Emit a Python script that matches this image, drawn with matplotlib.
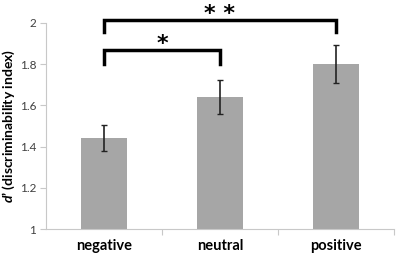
import matplotlib
matplotlib.use("Agg")
import matplotlib.pyplot as plt

plt.rcParams['font.family'] = ['Lato', 'DejaVu Sans']
plt.rcParams['mathtext.fontset'] = 'custom'
plt.rcParams['mathtext.bfit'] = 'Lato:bold:italic'

# data
categories = ['negative', 'neutral', 'positive']
d_prime = [1.44, 1.64, 1.80]
errors = [0.063, 0.082, 0.093]

# significance brackets: (left idx, right idx, height, drop, label)
brackets = [
    (0, 1, 1.868, 0.068, '*'),
    (0, 2, 2.013, 0.058, '* *'),
]

fig = plt.figure(figsize=(3.97, 2.58), dpi=100)
ax = fig.add_axes([0.1159, 0.1112, 0.8765, 0.8008])

x = range(len(categories))
ax.bar(x, d_prime, width=0.4, color='#a6a6a6', zorder=2)
ax.errorbar(x, d_prime, yerr=errors, fmt='none', ecolor='#222222',
            elinewidth=1.2, capsize=2, capthick=1, zorder=3)

ax.set_xlim(-0.5, 2.5)
ax.set_ylim(1, 2)
ax.set_yticks([1, 1.2, 1.4, 1.6, 1.8, 2])
ax.set_yticklabels(['1', '1.2', '1.4', '1.6', '1.8', '2'])

ax.set_xticks([0.5, 1.5, 2.5])
ax.set_xticklabels([])
ax.set_xticks(list(x), minor=True)
ax.set_xticklabels(categories, minor=True, fontweight='bold', fontsize=10.5)
ax.tick_params(axis='x', which='minor', length=0, pad=7)
ax.tick_params(axis='x', which='major', length=4, color='#c8c8c8')
ax.tick_params(axis='y', length=4, color='#c8c8c8', labelsize=8.5,
               labelcolor='#404040', pad=3)

for side in ['top', 'right']:
    ax.spines[side].set_visible(False)
for side in ['left', 'bottom']:
    ax.spines[side].set_color('#c8c8c8')
    ax.spines[side].set_linewidth(0.8)

ax.set_ylabel(r"$\mathbfit{d}$’ (discriminability index)", fontweight='bold',
              fontsize=10, va='center')
ax.yaxis.set_label_coords(-0.108, 0.5)

for left, right, h, drop, label in brackets:
    ax.plot([left, left, right, right], [h - drop, h, h, h - drop],
            color='black', lw=2.5, clip_on=False, solid_joinstyle='miter')
    ax.annotate(label, xy=((left + right) / 2, h), xytext=(0, 0),
                textcoords='offset points', ha='center', va='baseline',
                fontsize=16, fontweight='bold', family='DejaVu Sans',
                annotation_clip=False)

fig.savefig('out.png', dpi=100)
